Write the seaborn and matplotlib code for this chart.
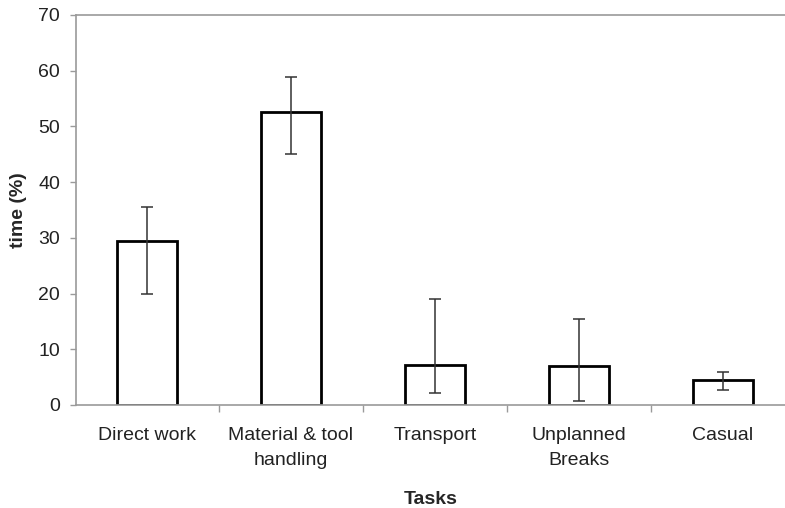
import matplotlib
matplotlib.use("Agg")
import matplotlib.pyplot as plt
import numpy as np
import seaborn as sns
from matplotlib.ticker import FixedLocator

# Values
tasks = ["Direct work", "Material & tool\nhandling", "Transport", "Unplanned\nBreaks", "Casual"]
time_pct = [29.5, 52.5, 7.2, 7.0, 4.4]
err_high = [35.6, 58.8, 19.1, 15.4, 6.0]
err_low = [20.0, 45.1, 2.2, 0.8, 2.7]
y_ticks = [0, 10, 20, 30, 40, 50, 60, 70]

sns.set_theme(style="white")
plt.rcParams["font.family"] = ["Liberation Sans", "DejaVu Sans"]

fig = plt.figure(figsize=(7.85, 5.08), dpi=100)
ax = fig.add_axes([0.0968, 0.2028, 0.9032, 0.7677])

sns.barplot(x=tasks, y=time_pct, fill=False, color="black", linewidth=2.0,
            width=0.415, errorbar=None, ax=ax)

# asymmetric error bars drawn on top of the outlined bars
x = np.arange(len(tasks))
lower = np.array(time_pct) - np.array(err_low)
upper = np.array(err_high) - np.array(time_pct)
ax.errorbar(x, time_pct, yerr=[lower, upper], fmt="none", ecolor="#333333",
            elinewidth=1.1, capsize=4, capthick=1.1)

ax.set_ylim(0, 70)
ax.set_xlim(-0.49, 4.43)
ax.set_yticks(y_ticks)
ax.tick_params(axis="y", labelsize=14, colors="#9a9a9a", labelcolor="#222222",
               left=True, length=4.5, width=1, direction="out", pad=7)
ax.tick_params(axis="x", which="major", labelsize=14, labelcolor="#222222",
               bottom=False, pad=10)
for lbl in ax.get_xticklabels():
    lbl.set_linespacing(1.6)
# tick marks sit between the categories
ax.xaxis.set_minor_locator(FixedLocator([0.5, 1.5, 2.5, 3.5]))
ax.tick_params(axis="x", which="minor", bottom=True, length=5, width=1,
               color="#9a9a9a", direction="out")

for side in ["left", "bottom", "top"]:
    ax.spines[side].set_visible(True)
    ax.spines[side].set_color("#9a9a9a")
    ax.spines[side].set_linewidth(1.2)
ax.spines["right"].set_visible(False)

ax.set_ylabel("time (%)", fontsize=14, fontweight="bold", labelpad=8)
ax.set_xlabel("Tasks", fontsize=14, fontweight="bold", labelpad=16)

fig.savefig("out.png", dpi=100)
